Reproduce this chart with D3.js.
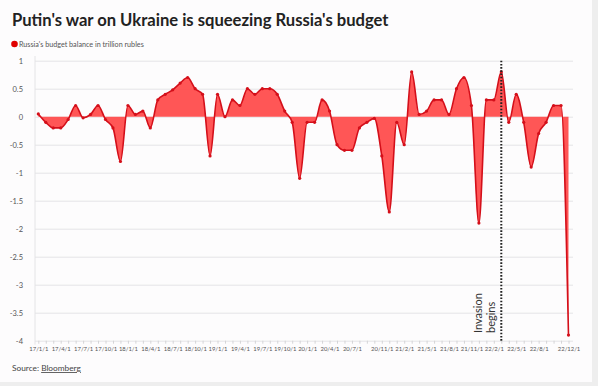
<!DOCTYPE html>
<html>
<head>
<meta charset="utf-8">
<script src="https://cdn.jsdelivr.net/npm/d3@7"></script>
<style>
  body { margin: 0; background: #eeeeee; }
  svg { display: block; font-family: Lato, "Open Sans", sans-serif; }
</style>
</head>
<body>
<svg id="chart"></svg>
<script>
const w = 598;
const h = 386;

// monthly budget balance, trillion rubles, 2017-01 .. 2022-12
const years = ["17", "18", "19", "20", "21", "22"];
const balance = [
  0.05, -0.1, -0.2, -0.2, -0.05, 0.2, -0.02, 0.04, 0.2, -0.05, -0.2, -0.8,
  0.2, 0.04, 0.1, -0.2, 0.3, 0.4, 0.48, 0.6, 0.7, 0.5, 0.4, -0.7,
  0.4, 0, 0.3, 0.2, 0.5, 0.4, 0.5, 0.5, 0.4, 0.1, -0.1, -1.1,
  -0.1, -0.1, 0.3, 0.1, -0.5, -0.6, -0.6, -0.2, -0.1, -0.03, -0.7, -1.7,
  -0.1, -0.5, 0.8, 0.04, 0.1, 0.3, 0.3, 0.04, 0.5, 0.7, 0.2, -1.9,
  0.3, 0.3, 0.8, -0.1, 0.4, -0.1, -0.9, -0.3, -0.1, 0.2, 0.2, -3.9
];
const months = years.flatMap(y => d3.range(1, 13).map(m => `${y}/${m}/1`));
const xLabels = ["17/1/1", "17/4/1", "17/7/1", "17/10/1", "18/1/1", "18/4/1", "18/7/1", "18/10/1",
  "19/1/1", "19/4/1", "19/7/1", "19/10/1", "20/1/1", "20/4/1", "20/7/1", "20/11/1",
  "21/2/1", "21/5/1", "21/8/1", "21/11/1", "22/2/1", "22/5/1", "22/8/1", "22/12/1"];
const yTicks = [1, 0.5, 0, -0.5, -1, -1.5, -2, -2.5, -3, -3.5, -4];
const invasionMonth = "22/3/1";

const data = months.map((m, i) => ({ month: m, value: balance[i] }));

const svg = d3.select("#chart").attr("width", w).attr("height", h);

svg.append("rect").attr("width", 592).attr("height", 382).attr("fill", "#fdfcfd");

const plotLeft = 35, plotRight = 573;
const xScale = d3.scalePoint().domain(months).range([38.3, 568.5]);
const yScale = d3.scaleLinear().domain([-4, 1]).range([340.7, 60.7]);

// title + legend
svg.append("text").attr("x", 12).attr("y", 26)
  .attr("font-size", 16.6).attr("font-weight", "bold").attr("fill", "#222")
  .text("Putin's war on Ukraine is squeezing Russia's budget");
svg.append("circle").attr("cx", 14.5).attr("cy", 44).attr("r", 3.3).attr("fill", "#e00000");
svg.append("text").attr("x", 19).attr("y", 46.8)
  .attr("font-size", 7.2).attr("fill", "#555")
  .text("Russia's budget balance in trillion rubles");

// y grid + labels
const yAxis = d3.axisLeft(yScale).tickValues(yTicks)
  .tickSize(-(plotRight - plotLeft)).tickPadding(12).tickFormat(d => d);
const gy = svg.append("g").attr("transform", `translate(${plotLeft},0)`).call(yAxis);
gy.select(".domain").remove();
gy.selectAll(".tick line").attr("stroke", "#e4e4e6").attr("stroke-width", 1);
gy.selectAll(".tick text").attr("font-size", 7.5).attr("fill", "#555")
  .attr("font-family", "Lato, sans-serif");
svg.append("line").attr("x1", plotLeft).attr("x2", plotLeft)
  .attr("y1", 56).attr("y2", yScale(-4) + 4).attr("stroke", "#e4e4e6");

// x axis
const xAxis = d3.axisBottom(xScale).tickSize(3).tickPadding(3)
  .tickFormat(d => xLabels.includes(d) ? d : "");
const gx = svg.append("g").attr("transform", `translate(0,${yScale(-4)})`).call(xAxis);
gx.select(".domain").remove();
gx.selectAll(".tick line").attr("stroke", "#d4d4d6");
gx.selectAll(".tick text").attr("font-size", 5.9).attr("fill", "#555")
  .attr("font-family", "Lato, sans-serif");

// area + line
const area = d3.area().curve(d3.curveMonotoneX)
  .x(d => xScale(d.month)).y0(yScale(0)).y1(d => yScale(d.value));
const line = d3.line().curve(d3.curveMonotoneX)
  .x(d => xScale(d.month)).y(d => yScale(d.value));

svg.append("path").datum(data).attr("d", area).attr("fill", "#ff4d4d").attr("fill-opacity", 0.95);
svg.append("path").datum(data).attr("d", line)
  .attr("fill", "none").attr("stroke", "#d40f1a").attr("stroke-width", 1.6);
svg.selectAll(".pt").data(data).enter().append("circle").attr("class", "pt")
  .attr("cx", d => xScale(d.month)).attr("cy", d => yScale(d.value))
  .attr("r", 1.6).attr("fill", "#d40f1a");

// invasion marker
const ix = xScale(invasionMonth);
svg.append("line").attr("x1", ix).attr("x2", ix)
  .attr("y1", yScale(1)).attr("y2", yScale(-4))
  .attr("stroke", "#222").attr("stroke-width", 2).attr("stroke-dasharray", "1.6,1.6");
const ann = svg.append("text").attr("transform", `translate(${ix - 19},333) rotate(-90)`)
  .attr("font-size", 11).attr("fill", "#333");
ann.append("tspan").attr("x", 0).attr("y", 0).text("Invasion");
ann.append("tspan").attr("x", 0).attr("y", 13).text("begins");

// source
const src = svg.append("text").attr("x", 12).attr("y", 371).attr("font-size", 8.3).attr("fill", "#444");
src.append("tspan").text("Source: ");
src.append("tspan").attr("text-decoration", "underline").text("Bloomberg");
</script>
</body>
</html>
